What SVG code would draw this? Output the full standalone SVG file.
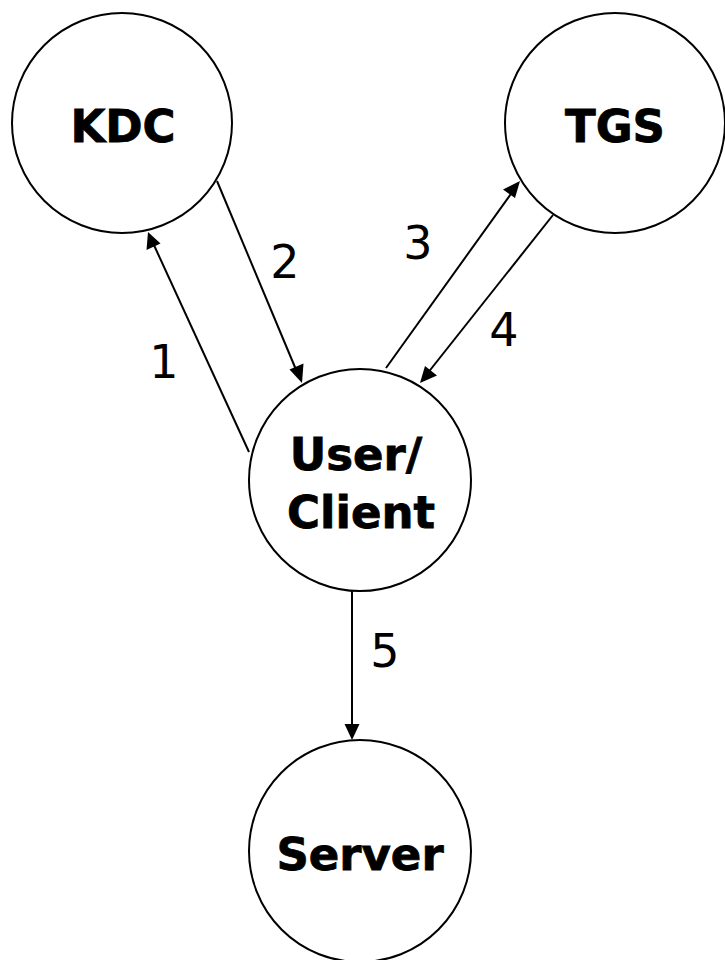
<svg xmlns="http://www.w3.org/2000/svg" width="725" height="960" viewBox="0 0 725 960">
<style>
.node{fill:#fff;stroke:#000;stroke-width:2}
.lbl{font-family:"DejaVu Sans",Verdana,sans-serif;font-weight:bold;font-size:45px;text-anchor:middle;fill:#000;stroke:#000;stroke-width:0.8}
.num{font-family:"DejaVu Sans",Verdana,sans-serif;font-size:46px;text-anchor:middle;fill:#000}
.edge{stroke:#000;stroke-width:2;fill:none}
.head{fill:#000}
</style>
<rect width="725" height="960" fill="#fff"/>
<g id="kdc"><circle class="node" cx="122" cy="123" r="110"/><text class="lbl" x="123" y="142">KDC</text></g>
<g id="tgs"><circle class="node" cx="615" cy="123" r="110"/><text class="lbl" x="615" y="142">TGS</text></g>
<g id="client"><circle class="node" cx="360" cy="480" r="111"/><text class="lbl" x="356" y="470">User/</text><text class="lbl" x="361" y="528">Client</text></g>
<g id="server"><circle class="node" cx="360" cy="851" r="111"/><text class="lbl" x="360" y="870">Server</text></g>
<g id="connectors">
<line class="edge" x1="249" y1="452" x2="153" y2="243"/>
<path class="head" d="M148,232 L146.5,250 L160.5,243.5 z"/>
<line class="edge" x1="217" y1="181" x2="297" y2="372"/>
<path class="head" d="M302,383 L289.5,369.5 L303.5,363.5 z"/>
<line class="edge" x1="386" y1="368" x2="513" y2="191"/>
<path class="head" d="M520,181 L515,198 L503,189.5 z"/>
<line class="edge" x1="553" y1="215" x2="427" y2="374"/>
<path class="head" d="M420,383 L425,366 L437,375.5 z"/>
<line class="edge" x1="352" y1="590" x2="352" y2="728"/>
<path class="head" d="M352,740 L344.5,724 L359.5,724 z"/>
<text class="num" x="164" y="378">1</text>
<text class="num" x="285" y="278">2</text>
<text class="num" x="418" y="259">3</text>
<text class="num" x="504" y="346">4</text>
<text class="num" x="385" y="667">5</text>
</g>
</svg>
